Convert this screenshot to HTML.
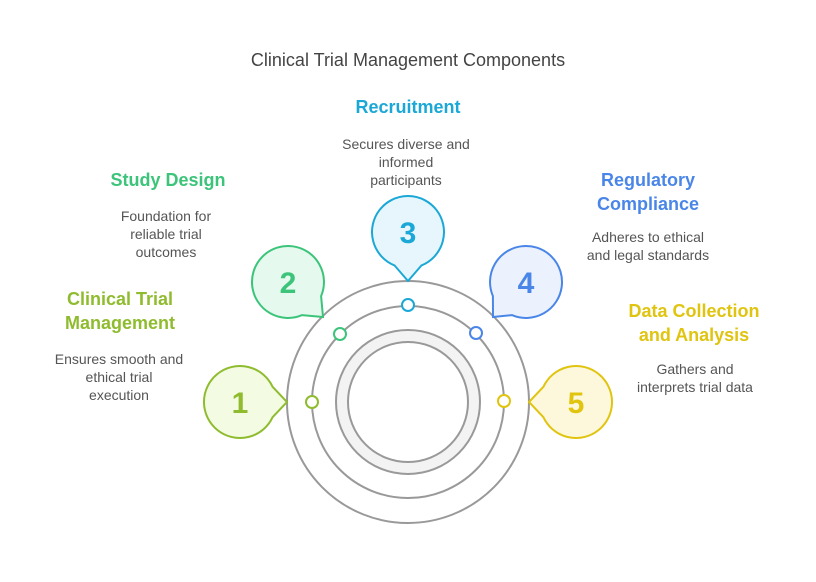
<!DOCTYPE html>
<html><head><meta charset="utf-8"><style>
html,body{margin:0;padding:0;background:#fff;}
svg{display:block;font-family:"Liberation Sans",sans-serif;}
.h{font-weight:bold;font-size:18px;text-anchor:middle;}
.b{font-size:14px;fill:#555;text-anchor:middle;}
.n{font-weight:bold;font-size:30px;text-anchor:middle;}
</style></head><body>
<svg width="816" height="582" viewBox="0 0 816 582">
<text x="408" y="66" font-size="18" fill="#444" text-anchor="middle">Clinical Trial Management Components</text>

<!-- rings -->
<circle cx="408" cy="402" r="121" fill="none" stroke="#999" stroke-width="2"/>
<circle cx="408" cy="402" r="96" fill="none" stroke="#999" stroke-width="2"/>
<circle cx="408" cy="402" r="66" fill="none" stroke="#f3f3f3" stroke-width="12"/>
<circle cx="408" cy="402" r="72" fill="none" stroke="#999" stroke-width="2"/>
<circle cx="408" cy="402" r="60" fill="none" stroke="#999" stroke-width="2"/>

<!-- dots -->
<circle cx="312" cy="402" r="6" fill="#fff" stroke="#8fbc2f" stroke-width="2"/>
<circle cx="340" cy="334" r="6" fill="#fff" stroke="#3cc47a" stroke-width="2"/>
<circle cx="408" cy="305" r="6" fill="#fff" stroke="#1ba8d6" stroke-width="2"/>
<circle cx="476" cy="333" r="6" fill="#fff" stroke="#4a86e8" stroke-width="2"/>
<circle cx="504" cy="401" r="6" fill="#fff" stroke="#e0c410" stroke-width="2"/>

<!-- bubbles -->
<path d="M272.6,386.8 L287,402 L272.6,417.2 A36 36 0 1 1 272.6,386.8 Z" fill="#f3fbe3" stroke="#8fbc2f" stroke-width="2"/>
<text x="240" y="413" class="n" fill="#8fbc2f">1</text>
<path d="M321.1,296.1 L323,317 L302.1,315.1 A36 36 0 1 1 321.1,296.1 Z" fill="#e5f9ee" stroke="#3cc47a" stroke-width="2"/>
<text x="288" y="293" class="n" fill="#3cc47a">2</text>
<path d="M421.5,265.4 L408,281 L394.5,265.4 A36 36 0 1 1 421.5,265.4 Z" fill="#e6f6fc" stroke="#1ba8d6" stroke-width="2"/>
<text x="408" y="243" class="n" fill="#1ba8d6">3</text>
<path d="M511.9,315.1 L493,317 L492.9,296.1 A36 36 0 1 1 511.9,315.1 Z" fill="#ecf2fd" stroke="#4a86e8" stroke-width="2"/>
<text x="526" y="293" class="n" fill="#4a86e8">4</text>
<path d="M543.4,417.2 L529,402 L543.4,386.8 A36 36 0 1 1 543.4,417.2 Z" fill="#fdf8dc" stroke="#e0c410" stroke-width="2"/>
<text x="576" y="413" class="n" fill="#e0c410">5</text>

<!-- labels -->
<text x="408" y="113" class="h" fill="#1ba8d6">Recruitment</text>
<text x="406" y="149" class="b">Secures diverse and</text>
<text x="406" y="167" class="b">informed</text>
<text x="406" y="185" class="b">participants</text>

<text x="168" y="186" class="h" fill="#3cc47a">Study Design</text>
<text x="166" y="221" class="b">Foundation for</text>
<text x="166" y="239" class="b">reliable trial</text>
<text x="166" y="257" class="b">outcomes</text>

<text x="648" y="186" class="h" fill="#4a86e8">Regulatory</text>
<text x="648" y="210" class="h" fill="#4a86e8">Compliance</text>
<text x="648" y="242" class="b">Adheres to ethical</text>
<text x="648" y="260" class="b">and legal standards</text>

<text x="120" y="305" class="h" fill="#8fbc2f">Clinical Trial</text>
<text x="120" y="329" class="h" fill="#8fbc2f">Management</text>
<text x="119" y="364" class="b">Ensures smooth and</text>
<text x="119" y="382" class="b">ethical trial</text>
<text x="119" y="400" class="b">execution</text>

<text x="694" y="317" class="h" fill="#e0c410">Data Collection</text>
<text x="694" y="341" class="h" fill="#e0c410">and Analysis</text>
<text x="695" y="374" class="b">Gathers and</text>
<text x="695" y="392" class="b">interprets trial data</text>
</svg>
</body></html>
